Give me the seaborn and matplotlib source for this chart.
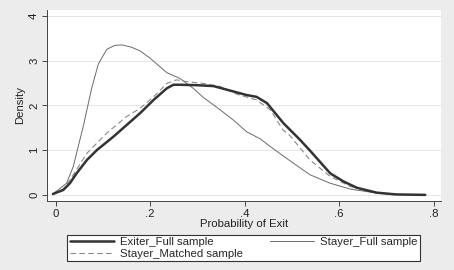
import matplotlib
matplotlib.use("Agg")
import matplotlib.pyplot as plt
import seaborn as sns
import pandas as pd

# Data
exiter_x = [-0.006, 0.016, 0.030, 0.044, 0.066, 0.087, 0.122, 0.150, 0.178, 0.207, 0.235, 0.249,
            0.263, 0.300, 0.334, 0.376, 0.404, 0.425, 0.447, 0.482, 0.517, 0.538, 0.581, 0.609,
            0.637, 0.679, 0.720, 0.782]
exiter_y = [0.02, 0.11, 0.26, 0.48, 0.78, 1.00, 1.30, 1.56, 1.82, 2.12, 2.38, 2.46,
            2.46, 2.45, 2.43, 2.31, 2.23, 2.19, 2.05, 1.60, 1.23, 0.99, 0.48, 0.30,
            0.16, 0.05, 0.01, 0.00]

stayer_full_x = [-0.006, 0.023, 0.037, 0.058, 0.076, 0.090, 0.108, 0.125, 0.140, 0.160, 0.178,
                 0.200, 0.235, 0.263, 0.291, 0.312, 0.348, 0.376, 0.404, 0.433, 0.454, 0.496,
                 0.538, 0.581, 0.623, 0.679, 0.720, 0.778]
stayer_full_y = [0.02, 0.26, 0.63, 1.52, 2.38, 2.92, 3.25, 3.34, 3.35, 3.30, 3.22,
                 3.05, 2.73, 2.60, 2.38, 2.18, 1.90, 1.67, 1.41, 1.25, 1.08, 0.76,
                 0.45, 0.26, 0.13, 0.04, 0.01, 0.00]

stayer_matched_x = [-0.006, 0.016, 0.030, 0.066, 0.108, 0.150, 0.178, 0.207, 0.235, 0.256, 0.277,
                    0.312, 0.348, 0.383, 0.425, 0.454, 0.481, 0.496, 0.538, 0.581, 0.623, 0.679,
                    0.720, 0.778]
stayer_matched_y = [0.02, 0.13, 0.33, 0.93, 1.38, 1.75, 1.93, 2.19, 2.49, 2.57, 2.53,
                    2.49, 2.42, 2.25, 2.12, 1.90, 1.45, 1.32, 0.78, 0.41, 0.19, 0.05,
                    0.01, 0.00]

x_ticks = [0, 0.2, 0.4, 0.6, 0.8]
x_tick_labels = ["0", ".2", ".4", ".6", ".8"]
y_ticks = [0, 1, 2, 3, 4]
y_tick_labels = ["0", "1", "2", "3", "4"]

labels = ["Exiter_Full sample", "Stayer_Full sample", "Stayer_Matched sample"]

sns.set_theme(style="white")
plt.rcParams['font.family'] = ['Liberation Sans', 'DejaVu Sans']

FS = 8.2

fig = plt.figure(figsize=(4.54, 2.70), dpi=100, facecolor="#ececec")
ax = fig.add_axes([0.103, 0.256, 0.868, 0.707])
ax.set_facecolor("white")

df_e = pd.DataFrame({"x": exiter_x, "y": exiter_y})
df_s = pd.DataFrame({"x": stayer_full_x, "y": stayer_full_y})
df_m = pd.DataFrame({"x": stayer_matched_x, "y": stayer_matched_y})

sns.lineplot(data=df_e, x="x", y="y", ax=ax, color="#333333", linewidth=1.8,
             label=labels[0], zorder=3)
sns.lineplot(data=df_s, x="x", y="y", ax=ax, color="#6a6a6a", linewidth=0.7,
             label=labels[1], zorder=2)
sns.lineplot(data=df_m, x="x", y="y", ax=ax, color="#8a8a8a", linewidth=0.8,
             linestyle=(0, (5, 3)), label=labels[2], zorder=2)

ax.set_xlim(-0.019, 0.815)
ax.set_ylim(-0.134, 4.13)
ax.set_xticks(x_ticks)
ax.set_xticklabels(x_tick_labels)
ax.set_yticks(y_ticks)
ax.set_yticklabels(y_tick_labels, rotation=90, va="center")
ax.tick_params(axis="both", which="both", direction="out", length=3.5, width=0.7,
               color="#444444", labelsize=FS, labelcolor="#222222", pad=2,
               left=True, bottom=True)
ax.yaxis.grid(True, color="#e6e6e6", linewidth=0.7)
ax.set_axisbelow(True)
for s in ["top", "right"]:
    ax.spines[s].set_visible(False)
for s in ["left", "bottom"]:
    ax.spines[s].set_color("#444444")
    ax.spines[s].set_linewidth(0.7)

ax.set_xlabel("Probability of Exit", fontsize=FS, color="#222222", labelpad=0)
ax.set_ylabel("Density", fontsize=FS, color="#222222", labelpad=3)

handles, labs = ax.get_legend_handles_labels()
ax.get_legend().remove()
order = [0, 2, 1]
leg = fig.legend([handles[i] for i in order], [labs[i] for i in order],
                 ncol=2, loc="center", mode="expand",
                 bbox_to_anchor=(67 / 454, 1 - 264 / 270, 353 / 454, 32 / 270),
                 fontsize=FS, frameon=True, fancybox=False, edgecolor="#333333",
                 framealpha=1, facecolor="white", handlelength=3.9,
                 handletextpad=0.5, borderpad=0.25, labelspacing=0.1,
                 borderaxespad=0)
leg.get_frame().set_linewidth(0.8)

fig.savefig("out.png", dpi=100, facecolor=fig.get_facecolor())
